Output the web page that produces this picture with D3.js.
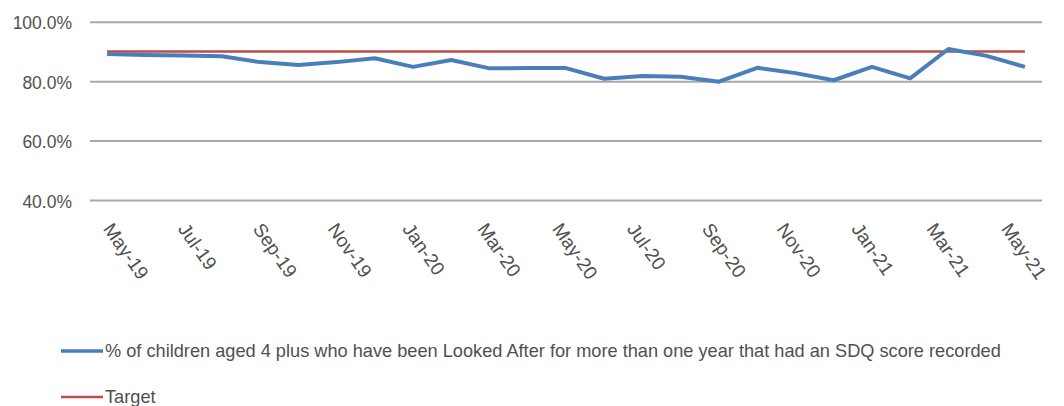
<!DOCTYPE html>
<html>
<head>
<meta charset="utf-8">
<script src="https://cdn.jsdelivr.net/npm/d3@7/dist/d3.min.js"></script>
<style>
  html, body { margin: 0; padding: 0; background: #fff; }
  svg { display: block; }
  text { font-family: "Liberation Sans", Arial, sans-serif; fill: #505050; }
</style>
</head>
<body>
<svg id="chart" width="1064" height="406"></svg>
<script>
// ---- Data ----
const months = ["May-19","Jun-19","Jul-19","Aug-19","Sep-19","Oct-19","Nov-19","Dec-19",
  "Jan-20","Feb-20","Mar-20","Apr-20","May-20","Jun-20","Jul-20","Aug-20","Sep-20","Oct-20",
  "Nov-20","Dec-20","Jan-21","Feb-21","Mar-21","Apr-21","May-21"];
const sdqValues = [89.1, 88.8, 88.6, 88.4, 86.4, 85.4, 86.4, 87.7, 84.8, 87.1, 84.3, 84.4, 84.4,
  80.8, 81.7, 81.5, 79.8, 84.5, 82.7, 80.3, 84.8, 80.9, 90.8, 88.5, 84.8];
const targetValues = months.map(() => 90);
const tickLabels = ["May-19","Jul-19","Sep-19","Nov-19","Jan-20","Mar-20","May-20",
  "Jul-20","Sep-20","Nov-20","Jan-21","Mar-21","May-21"];
const yTicks = [40, 60, 80, 100];
const seriesNames = ["% of children aged 4 plus who have been Looked After for more than one year that had an SDQ score recorded", "Target"];

// ---- Layout ----
const svg = d3.select("#chart");
const x = d3.scalePoint().domain(months).range([88, 1044]).padding(0.5);
const y = d3.scaleLinear().domain([40, 100]).range([200, 21.7]);
const labelX = d3.scalePoint().domain(tickLabels).range([102, 1000]);

// gridlines
const yAxis = d3.axisLeft(y).tickValues(yTicks).tickSize(-(1042 - 90)).tickFormat(d => d.toFixed(1) + "%");
const gy = svg.append("g").attr("transform", "translate(90,0)").call(yAxis);
gy.select(".domain").remove();
gy.selectAll(".tick line").attr("stroke", "#a8a8a8").attr("stroke-width", 2);
gy.selectAll(".tick text")
  .attr("x", -18).attr("dy", null).attr("y", 7)
  .style("font-size", "17.5px").style("fill", "#505050")
  .attr("font-family", null);

// x labels
const xAxis = d3.axisBottom(labelX).tickSize(0);
const gx = svg.append("g").attr("transform", "translate(0,229)").call(xAxis);
gx.select(".domain").remove();
gx.selectAll(".tick text")
  .attr("x", 0).attr("y", 0).attr("dy", null)
  .attr("text-anchor", "start")
  .attr("transform", "rotate(55)")
  .style("font-size", "19px").style("fill", "#505050");

// lines
const line = d3.line().x((d, i) => x(months[i])).y(d => y(d));
svg.append("path").datum(targetValues).attr("d", line)
  .attr("fill", "none").attr("stroke", "#be4b48").attr("stroke-width", 2.5);
svg.append("path").datum(sdqValues).attr("d", line)
  .attr("fill", "none").attr("stroke", "#4a7ebb").attr("stroke-width", 4)
  .attr("stroke-linejoin", "round");

// legend
const legend = svg.append("g");
const legendItems = [
  {name: seriesNames[0], color: "#4a7ebb", y: 351, w: 3.5},
  {name: seriesNames[1], color: "#be4b48", y: 397, w: 2.5}
];
legendItems.forEach(it => {
  legend.append("line").attr("x1", 61).attr("x2", 103).attr("y1", it.y).attr("y2", it.y)
    .attr("stroke", it.color).attr("stroke-width", it.w);
  legend.append("text").attr("x", 105).attr("y", it.y + 6)
    .style("font-size", "18.2px").style("fill", "#505050").text(it.name);
});
</script>
</body>
</html>
